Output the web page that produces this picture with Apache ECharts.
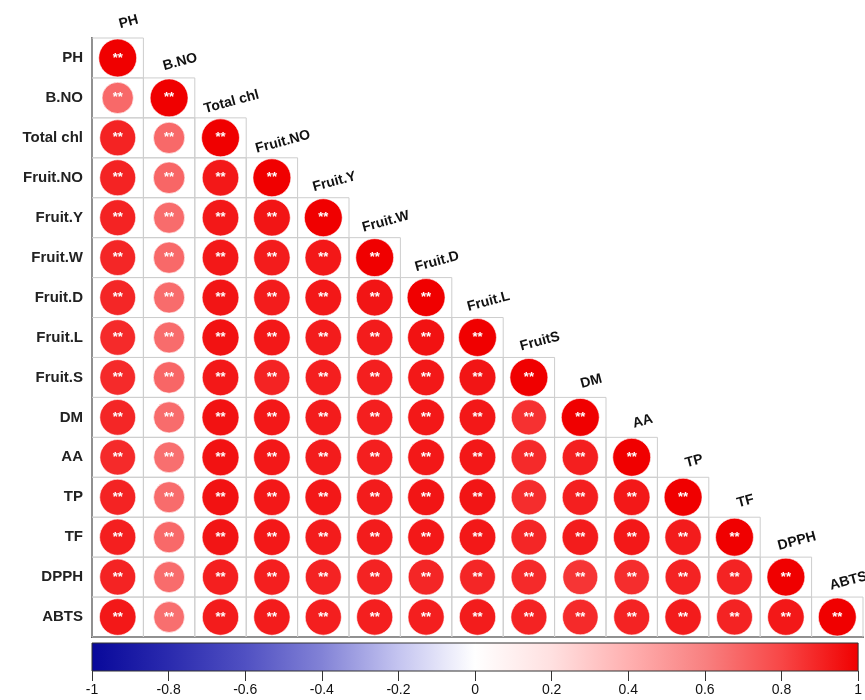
<!DOCTYPE html>
<html lang="en">
<head>
<meta charset="UTF-8">
<title>Correlation plot</title>
<script src="https://cdn.jsdelivr.net/npm/echarts@6/dist/echarts.min.js"></script>
<style>
  html, body { margin: 0; padding: 0; background: #fff; }
  #chart { width: 865px; height: 700px; }
</style>
</head>
<body>
<div id="chart"></div>
<script>
// variable names (rows, top to bottom) and the labels written over the diagonal
const vars = ['PH', 'B.NO', 'Total chl', 'Fruit.NO', 'Fruit.Y', 'Fruit.W', 'Fruit.D',
  'Fruit.L', 'Fruit.S', 'DM', 'AA', 'TP', 'TF', 'DPPH', 'ABTS'];
const colLabels = ['PH', 'B.NO', 'Total chl', 'Fruit.NO', 'Fruit.Y', 'Fruit.W', 'Fruit.D',
  'Fruit.L', 'FruitS', 'DM', 'AA', 'TP', 'TF', 'DPPH', 'ABTS'];

// lower triangle of the correlation matrix
const corr = [
  [1],
  [0.68, 1],
  [0.90, 0.68, 1],
  [0.90, 0.69, 0.93, 1],
  [0.90, 0.67, 0.93, 0.94, 1],
  [0.89, 0.68, 0.93, 0.92, 0.93, 1],
  [0.89, 0.67, 0.94, 0.92, 0.93, 0.94, 1],
  [0.88, 0.67, 0.95, 0.93, 0.92, 0.92, 0.95, 1],
  [0.88, 0.69, 0.93, 0.90, 0.91, 0.91, 0.93, 0.94, 1],
  [0.89, 0.67, 0.95, 0.93, 0.92, 0.91, 0.93, 0.93, 0.86, 1],
  [0.88, 0.66, 0.95, 0.93, 0.92, 0.91, 0.93, 0.93, 0.88, 0.91, 1],
  [0.90, 0.67, 0.95, 0.93, 0.93, 0.92, 0.94, 0.94, 0.87, 0.91, 0.93, 1],
  [0.91, 0.68, 0.94, 0.93, 0.92, 0.92, 0.93, 0.93, 0.89, 0.92, 0.93, 0.92, 1],
  [0.90, 0.67, 0.91, 0.91, 0.90, 0.90, 0.89, 0.89, 0.88, 0.85, 0.87, 0.90, 0.90, 1],
  [0.93, 0.66, 0.92, 0.92, 0.91, 0.91, 0.91, 0.92, 0.90, 0.88, 0.90, 0.92, 0.90, 0.93, 1]
];
const sigMark = '**';

// colour scale, evenly spaced from -1 to 1
const cbRange = [-1, 1];
const cbColors = ['#08089a', '#2a2aae', '#5050c2', '#8282d6', '#c4c4f0', '#ffffff',
  '#ffe0e0', '#ffb0b0', '#f88080', '#f84646', '#f00000'];

const cells = [];
corr.forEach((row, i) => {
  row.forEach((v, j) => cells.push([j, i, v]));
});
const diag = vars.map((_, i) => [i, i]);

const font = '"Liberation Sans", Arial, sans-serif';

const chart = echarts.init(document.getElementById('chart'));

chart.setOption({
  animation: false,
  textStyle: { fontFamily: font },
  grid: [
    { left: 92, top: 38, width: 771, height: 599 },
    { left: 92, top: 643, width: 771, height: 28 }
  ],
  xAxis: [
    {
      type: 'category', gridIndex: 0, data: vars,
      axisLine: { show: true, lineStyle: { color: '#555', width: 2 } },
      axisTick: { show: false }, axisLabel: { show: false }, splitLine: { show: false }
    },
    {
      type: 'value', gridIndex: 1, min: cbRange[0], max: cbRange[1], interval: 0.2,
      axisLine: { show: false },
      axisTick: { show: true, length: 10, lineStyle: { color: '#333' } },
      axisLabel: { fontSize: 14, color: '#111', margin: 12 },
      splitLine: { show: false }
    }
  ],
  yAxis: [
    {
      type: 'category', gridIndex: 0, data: vars, inverse: true,
      axisLine: { show: true, lineStyle: { color: '#555', width: 2 } },
      axisTick: { show: false },
      axisLabel: { fontSize: 15, fontWeight: 'bold', color: '#222', margin: 9 },
      splitLine: { show: false }
    },
    { type: 'value', gridIndex: 1, min: 0, max: 1, show: false }
  ],
  visualMap: {
    show: false, type: 'continuous', min: cbRange[0], max: cbRange[1],
    dimension: 2, seriesIndex: 1, inRange: { color: cbColors }
  },
  series: [
    {
      // cell borders
      type: 'custom', xAxisIndex: 0, yAxisIndex: 0, silent: true, z: 1,
      data: cells,
      renderItem(params, api) {
        const c = api.coord([api.value(0), api.value(1)]);
        const s = api.size([1, 1]);
        return {
          type: 'rect',
          shape: { x: c[0] - s[0] / 2, y: c[1] - s[1] / 2, width: s[0], height: s[1] },
          style: { fill: 'none', stroke: '#cdcdcd', lineWidth: 1 }
        };
      }
    },
    {
      // circles with significance marks
      type: 'custom', xAxisIndex: 0, yAxisIndex: 0, silent: true, z: 2,
      data: cells,
      renderItem(params, api) {
        const c = api.coord([api.value(0), api.value(1)]);
        const s = api.size([1, 1]);
        const r = Math.min(s[0], s[1]) * 0.475 * Math.sqrt(Math.abs(api.value(2)));
        return {
          type: 'group',
          children: [
            {
              type: 'circle', shape: { cx: c[0], cy: c[1], r: r },
              style: { fill: api.visual('color'), stroke: 'rgba(255,255,255,0.6)', lineWidth: 1 }
            },
            {
              type: 'text', x: c[0], y: c[1],
              style: { text: sigMark, fill: '#fff', font: 'bold 13px ' + font, align: 'center', verticalAlign: 'middle' }
            }
          ]
        };
      }
    },
    {
      // rotated column labels above the diagonal
      type: 'custom', xAxisIndex: 0, yAxisIndex: 0, silent: true, z: 3,
      data: diag,
      renderItem(params, api) {
        const c = api.coord([api.value(0), api.value(1)]);
        const s = api.size([1, 1]);
        return {
          type: 'text', x: c[0] + 11, y: c[1] - s[1] / 2 - 16,
          rotation: 15 * Math.PI / 180,
          style: {
            text: colLabels[params.dataIndex], fill: '#111',
            font: 'bold 14px ' + font, align: 'center', verticalAlign: 'middle'
          }
        };
      }
    },
    {
      // colour bar
      type: 'custom', xAxisIndex: 1, yAxisIndex: 1, silent: true,
      data: [cbRange],
      renderItem(params, api) {
        const p0 = api.coord([api.value(0), 1]);
        const p1 = api.coord([api.value(1), 0]);
        return {
          type: 'rect',
          shape: { x: p0[0], y: p0[1], width: p1[0] - p0[0], height: p1[1] - p0[1] },
          style: {
            fill: {
              type: 'linear', x: 0, y: 0, x2: 1, y2: 0,
              colorStops: cbColors.map((col, k) => ({ offset: k / (cbColors.length - 1), color: col }))
            },
            stroke: '#333', lineWidth: 1
          }
        };
      }
    }
  ]
});
</script>
</body>
</html>
